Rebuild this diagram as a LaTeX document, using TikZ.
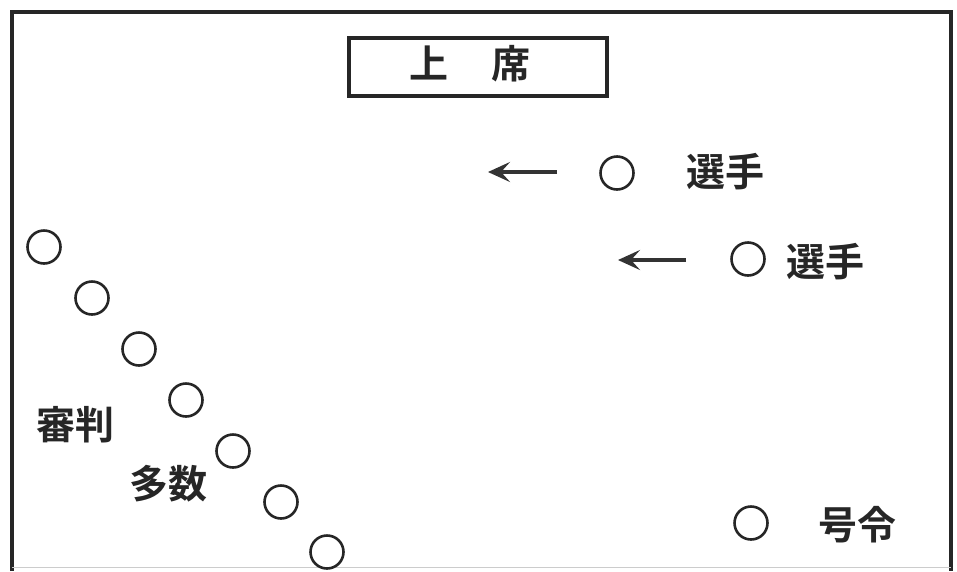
\documentclass[tikz,border=0pt]{standalone}
\usepackage{fontspec}
\newfontfamily\jpfont{Noto Sans CJK JP}[BoldFont=* Bold]
\usetikzlibrary{arrows.meta}
\begin{document}
\begin{tikzpicture}[x=1pt,y=-1pt,
  seat/.style={draw,circle,line width=2.6pt,black!85,minimum size=33pt,inner sep=0pt},
  lbl/.style={font=\jpfont\bfseries\fontsize{39}{39}\selectfont,inner sep=0pt,text=black!85},
  moveto/.style={-{Stealth[length=22pt,width=20pt,inset=9pt]},line width=3.6pt,black!80}]
\useasboundingbox (0,0) rectangle (957,571);
% frame
\draw[line width=3.2pt,black!85] (12,571) -- (12,12) -- (951,12) -- (951,571);
\draw[line width=1pt,black!20] (12,567) -- (951,567);
% top seat
\node[draw,line width=3.2pt,black!85,minimum width=258pt,minimum height=58pt,inner sep=0pt] (kamiza) at (478,67) {};
\node[lbl] (kamizatxt) at (470,64) {上\hspace{43pt}席};
% players
\node[seat] (p1) at (617,173) {};
\node[lbl,anchor=west] (p1txt) at (686,172) {選手};
\coordinate (a1s) at (557,172);
\coordinate (a1e) at (488,172);
\draw[moveto] (a1s) -- (a1e);
\node[seat] (p2) at (748,259) {};
\node[lbl,anchor=west] (p2txt) at (786,262) {選手};
\coordinate (a2s) at (686,260);
\coordinate (a2e) at (618,260);
\draw[moveto] (a2s) -- (a2e);
% judges
\node[seat] (j1) at (44,247) {};
\node[seat] (j2) at (92,298) {};
\node[seat] (j3) at (139,349) {};
\node[seat] (j4) at (186,400) {};
\node[seat] (j5) at (233,451) {};
\node[seat] (j6) at (281,502) {};
\node[seat] (j7) at (327,552) {};
\node[lbl] (judgetxt) at (75,425) {審判};
\node[lbl] (manytxt) at (168,484) {多数};
% starter
\node[seat] (st) at (751,523) {};
\node[lbl] (sttxt) at (857,525) {号令};
\end{tikzpicture}
\end{document}
